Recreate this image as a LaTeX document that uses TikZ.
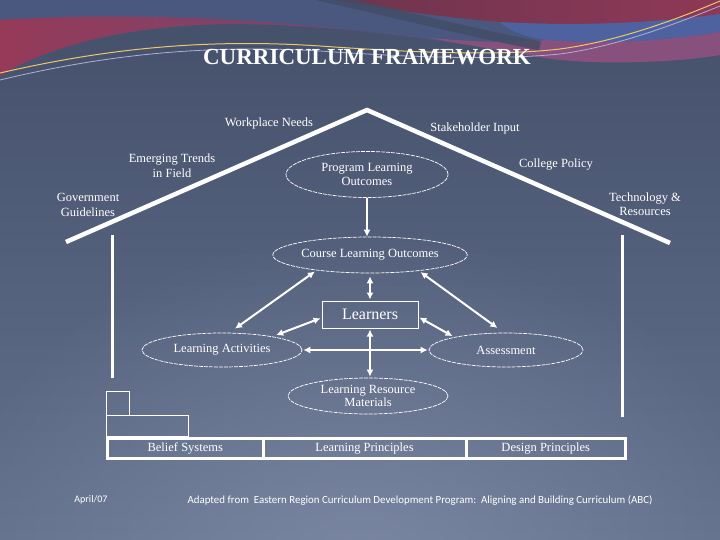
\documentclass[tikz,border=0pt]{standalone}
\usepackage{fontspec}
\setmainfont{Liberation Serif}
\newfontfamily\footfont{Carlito}
\usetikzlibrary{shapes.geometric,arrows.meta,fadings,calc}
\tikzfading[name=myglow, inner color=transparent!0, outer color=transparent!100]
\definecolor{bgtop}{RGB}{68,80,106}
\definecolor{bgbot}{RGB}{100,113,141}
\definecolor{glow}{RGB}{140,152,178}
\definecolor{topblue}{RGB}{74,88,128}
\definecolor{redl}{RGB}{150,58,88}
\definecolor{purp}{RGB}{100,78,125}
\definecolor{maroon}{RGB}{110,52,78}
\definecolor{stripe}{RGB}{78,98,160}
\definecolor{pinkb}{RGB}{135,80,125}
\definecolor{darkband}{RGB}{66,76,102}
\definecolor{yline}{RGB}{235,200,110}
\definecolor{pline}{RGB}{175,175,215}
\begin{document}
\begin{tikzpicture}[x=1pt,y=-1pt,
  lbl/.style={text=white,font=\fontsize{12.5}{14.5}\selectfont,align=center,inner sep=0pt},
  oval/.style={ellipse,draw=white,line width=0.7pt,dash pattern=on 4pt off 1pt,inner sep=0pt,
    text=white,font=\fontsize{12.5}{14}\selectfont,align=center},
  gbox/.style={rectangle,draw=white,line width=3pt,inner sep=0pt,text=white,
    font=\fontsize{12.5}{14}\selectfont},
  dart/.style={draw=white,line width=2pt,{Latex[length=7pt,width=7pt]}-{Latex[length=7pt,width=7pt]}},
  sart/.style={draw=white,line width=2pt,-{Latex[length=7pt,width=7pt]}},
  frame/.style={draw=white,line width=3pt},
  thin/.style={draw=white,line width=1pt}]
\useasboundingbox (0,0) rectangle (720,540);
% background
\shade[top color=bgtop,bottom color=bgbot] (0,0) rectangle (720,540);
\fill[glow,opacity=0.55,path fading=myglow] (360,560) ellipse (420 and 330);
% top swooshes
\fill[topblue] (0,0) -- (720,0) -- (720,55) .. controls (680,62) and (600,66) .. (545,58)
  .. controls (450,40) and (330,24) .. (230,24) .. controls (130,25) and (50,45) .. (0,76) -- cycle;
\shade[left color=redl,right color=purp] (0,20) .. controls (100,14) and (200,16) .. (300,25)
  .. controls (400,34) and (480,46) .. (545,58)
  .. controls (450,40) and (330,24) .. (230,24) .. controls (130,25) and (50,45) .. (0,76) -- cycle;
\shade[left color=maroon,right color=redl!80!maroon] (335,0) -- (720,0) -- (720,14)
  .. controls (650,24) and (570,26) .. (500,22) .. controls (430,16) and (380,8) .. (335,0) -- cycle;
\fill[stripe] (500,22) .. controls (570,26) and (650,24) .. (720,14) -- (720,32)
  .. controls (660,42) and (600,44) .. (545,40) .. controls (520,36) and (505,28) .. (500,22) -- cycle;
\fill[pinkb] (430,38) .. controls (480,42) and (520,44) .. (545,40) .. controls (600,44) and (660,42) .. (720,32)
  -- (720,55) .. controls (680,62) and (600,66) .. (545,58) .. controls (500,50) and (460,44) .. (430,38) -- cycle;
\draw[darkband,line width=9pt,opacity=0.8] (318,-4) .. controls (390,12) and (460,30) .. (540,46);
\draw[pline,line width=0.8pt] (0,80) .. controls (100,56) and (200,44) .. (320,51)
  .. controls (420,58) and (500,60) .. (560,54) .. controls (620,46) and (680,22) .. (720,6);
\draw[yline,line width=1pt] (0,73) .. controls (100,50) and (200,38) .. (320,46)
  .. controls (420,53) and (500,56) .. (560,49) .. controls (620,41) and (680,18) .. (720,1);
% title
\node[text=white,font=\fontsize{23}{28}\selectfont\bfseries,inner sep=0pt] (title) at (367,57) {CURRICULUM FRAMEWORK};
% house
\coordinate (rl) at (66,242);
\coordinate (peak) at (367,110);
\coordinate (rr) at (670,243);
\draw[draw=white,line width=4.5pt,line join=miter] (rl) -- (peak) -- (rr);
\coordinate (lwt) at (112,235);
\coordinate (lwb) at (112,378);
\coordinate (rwt) at (622,235);
\coordinate (rwb) at (622,417);
\draw[frame] (lwt) -- (lwb);
\draw[frame] (rwt) -- (rwb);
% stairs
\node[thin,rectangle,minimum width=23pt,minimum height=24pt,inner sep=0pt] (st1) at (117.5,403) {};
\node[thin,rectangle,minimum width=82pt,minimum height=21pt,inner sep=0pt] (st2) at (147,425.5) {};
% ground boxes
\node[gbox,minimum width=155.5pt,minimum height=20pt] (bs) at (185.25,448.5) {Belief Systems};
\node[gbox,minimum width=203pt,minimum height=20pt] (lp) at (364.5,448.5) {Learning Principles};
\node[gbox,minimum width=159.5pt,minimum height=20pt] (dp) at (545.75,448.5) {Design Principles};
% outside labels
\node[lbl] (wn) at (269,123) {Workplace Needs};
\node[lbl] (si) at (475,128) {Stakeholder Input};
\node[lbl] (et) at (172,165.5) {Emerging Trends\\in Field};
\node[lbl] (cp) at (556,165) {College Policy};
\node[lbl] (gg) at (88,205) {Government\\Guidelines};
\node[lbl] (tr) at (645,204) {Technology \&\\Resources};
% ovals
\node[oval,minimum width=162pt,minimum height=46pt] (plo) at (367,174.5) {Program Learning\\Outcomes};
\node[oval,minimum width=190pt,minimum height=36pt] (clo) at (370,255) {Course Learning Outcomes};
\node[rectangle,draw=white,line width=1pt,minimum width=96pt,minimum height=27pt,inner sep=0pt,
  text=white,font=\fontsize{16}{18}\selectfont] (lr) at (370,314.5) {Learners};
\node[oval,minimum width=160pt,minimum height=34pt] (la) at (222,350) {Learning Activities};
\node[oval,minimum width=154pt,minimum height=34pt] (as) at (506,350) {Assessment};
\node[oval,minimum width=160pt,minimum height=36pt,font=\fontsize{12.5}{13.5}\selectfont] (lrm) at (368,396) {Learning Resource\\Materials};
% arrows
\draw[sart] (plo.south) -- (plo.south |- clo.north);
\draw[dart,shorten <=3pt,shorten >=1pt] (clo.south) -- (lr.north);
\draw[dart,shorten <=2pt,shorten >=7pt] (clo.196) -- (la.67);
\draw[dart,shorten <=2pt,shorten >=8pt] (clo.342) -- (as.97);
\draw[dart,shorten <=1pt,shorten >=4pt] (lr.184) -- (la.15);
\draw[dart,shorten <=1pt,shorten >=2pt] (lr.357) -- (as.166);
\draw[dart,shorten <=1pt,shorten >=1pt] (la.east) -- (as.west);
\draw[dart,shorten <=1pt,shorten >=1pt] (lr.south) -- (lr.south |- lrm.north);
% footer
\node[text=white,font=\footfont\fontsize{10}{12}\selectfont,inner sep=0pt] (date) at (91,500) {April/07};
\node[text=white,font=\footfont\fontsize{10.9}{12}\selectfont,inner sep=0pt] (src) at (420,500)
  {Adapted from\ \ Eastern Region Curriculum Development Program:\ \ Aligning and Building Curriculum (ABC)};
\end{tikzpicture}
\end{document}
